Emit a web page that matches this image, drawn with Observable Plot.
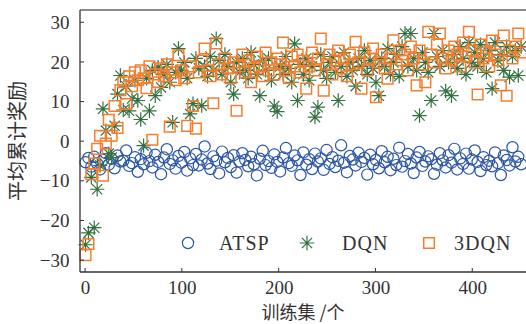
<!DOCTYPE html>
<html><head><meta charset="utf-8">
<script src="https://cdn.jsdelivr.net/npm/d3@7"></script>
<script src="https://cdn.jsdelivr.net/npm/@observablehq/plot@0.6"></script>
<style>body{margin:0;background:#fff} svg{display:block}</style>
</head><body><div id="chart"></div>
<script>
const episodes = [0,3,6,9,12,15,18,21,24,27,30,33,36,39,42,45,48,51,54,57,60,63,66,69,72,75,78,81,84,87,90,93,96,99,102,105,108,111,114,117,120,123,126,129,132,135,138,141,144,147,150,153,156,159,162,165,168,171,174,177,180,183,186,189,192,195,198,201,204,207,210,213,216,219,222,225,228,231,234,237,240,243,246,249,252,255,258,261,264,267,270,273,276,279,282,285,288,291,294,297,300,303,306,309,312,315,318,321,324,327,330,333,336,339,342,345,348,351,354,357,360,363,366,369,372,375,378,381,384,387,390,393,396,399,402,405,408,411,414,417,420,423,426,429,432,435,438,441,444,447,450];

const atsp = [-5.2,-4.1,-6.3,-3.8,-5.5,-7.0,-4.6,-2.9,-5.8,-4.3,
-6.7,-3.5,-5.0,-4.8,-2.2,-6.1,-5.4,-3.9,-7.6,-4.4,
-5.7,-2.8,-4.9,-6.5,-3.3,-5.1,-8.2,-4.0,-1.9,-5.6,
-4.7,-6.8,-3.6,-5.3,-2.6,-7.3,-4.2,-5.9,-3.1,-6.0,
-4.5,-1.2,-5.5,-6.9,-3.7,-4.8,-8.0,-2.5,-5.2,-4.1,
-6.4,-3.4,-7.8,-5.0,-2.9,-4.6,-6.2,-3.8,-5.7,-8.5,
-4.3,-2.3,-5.9,-4.9,-6.6,-3.2,-5.1,-7.5,-4.0,-1.6,
-5.4,-6.1,-3.5,-4.7,-8.4,-2.7,-5.8,-4.4,-6.9,-3.0,
-5.0,-4.2,-7.1,-2.1,-5.6,-3.9,-6.4,-4.8,-0.9,-5.3,
-7.7,-3.6,-4.5,-6.0,-2.8,-5.1,-4.1,-8.3,-3.3,-5.7,
-4.6,-6.7,-2.4,-5.2,-3.8,-7.2,-4.3,-5.9,-1.5,-6.3,
-4.9,-3.1,-5.5,-7.9,-4.0,-2.6,-6.1,-5.0,-3.7,-4.4,
-8.1,-5.8,-2.9,-4.7,-6.5,-3.4,-5.3,-1.8,-7.0,-4.2,
-5.6,-3.0,-6.8,-4.5,-2.2,-5.1,-7.4,-3.9,-5.9,-4.8,
-6.2,-2.7,-5.4,-8.4,-3.5,-4.6,-6.0,-1.4,-5.0,-3.8,
-5.7];

const dqn = [-26,-23,-9,-21.7,-12,-6,8.3,2.8,-3,-4,
4,12,16.7,8,14,7.8,10.9,15.5,10.4,5.6,
-1,16,7.8,18,11.6,18.8,13.7,17,19.5,15,
4.9,17.5,23.5,18,20,16,7,9.6,21,18.5,
9.1,19,16.5,21.5,18,26,20.5,17,22,19,
15,12,20,17.5,21,18,16,22.5,19.5,17,
11.6,20.5,18,21,15.5,9,7.6,19,17,21.5,
18.5,15,24.7,10.4,19.5,17,21,15.5,19,6.2,
8.7,22,18,16,20,21.5,17.5,10.4,19,22.5,
16.5,20,18,14,21,19,23,17,20.5,18.5,
15,11.6,21,19,23.5,17,20,22,16.5,24,
27.3,19,27.3,21,18,6.6,22.5,20,17.5,10.4,
27.3,21.5,19,23,12.8,20,11.6,22,18.5,24,
21,17,25,20,22.5,19,24.5,21,17.5,23,
13.4,25,20.5,22,18,24,16.3,21.5,23,16.7,
24];

const dqn3 = [-28.6,-25.8,-8.2,-5.5,-1.8,1.5,-8.6,-0.5,5.5,1.5,
9,3.5,13,15,9.5,16.5,14,17.5,15.5,18,
16,13.5,19,0.5,17,15,18.5,16.5,19.5,3.8,
17.5,15.5,21.8,18,16,4,19,9,3.3,17.5,
20.5,23.5,18,16.5,9.7,24.8,19.5,17,21,18.5,
16,20,7.8,19,22,17.5,20.5,15,18.5,21.5,
19,16.5,22.5,18,20,17,21,19.5,25,18,
16,21.5,19,22,17.5,20.5,13.4,19,22.5,18,
21,26,12.9,19.5,22,17,20.5,23,18.5,21,
16.5,22,19.5,25.2,20,13.4,22.5,18,21,23.5,
11.2,20,22,18.5,15.9,21,25.6,19.5,23,20.5,
22,18,24,21,14.2,23,19.5,15,27.7,22,
20,24.5,27.3,21,18.5,23,20.5,24,22,19,
25,21.5,27.7,23,20,11.9,24.5,21,22.5,19,
25.5,22,20.5,14.2,26.8,11.6,23,21,24,27.3,
22.5];

const seriesNames = ["ATSP", "DQN", "3DQN"];
const xTicks = [0, 100, 200, 300, 400];
const yTicks = [-30, -20, -10, 0, 10, 20, 30];
const xLabel = "训练集 /个";
const yLabel = "平均累计奖励";

const colors = {ATSP: "#2b55a6", DQN: "#347040", "3DQN": "#f47e2e"};

const asterisk8 = {
  draw(ctx, size) {
    const r = Math.sqrt(size / Math.PI), d = r * Math.SQRT1_2;
    ctx.moveTo(-r, 0); ctx.lineTo(r, 0);
    ctx.moveTo(0, -r); ctx.lineTo(0, r);
    ctx.moveTo(-d, -d); ctx.lineTo(d, d);
    ctx.moveTo(-d, d); ctx.lineTo(d, -d);
  }
};
const symbols = {ATSP: "circle", DQN: asterisk8, "3DQN": "square"};
const legendSymbols = {ATSP: d3.symbolCircle, DQN: asterisk8, "3DQN": d3.symbolSquare};
const radii = {ATSP: 5.6, DQN: 7.2, "3DQN": 6};
const widths = {ATSP: 1.2, DQN: 1.2, "3DQN": 1.5};

const allSeries = [atsp, dqn, dqn3];
const dotMarks = seriesNames.map((name, k) =>
  Plot.dot(episodes.map((e, i) => ({x: e, y: allSeries[k][i]})), {
    x: "x", y: "y", symbol: () => symbols[name], r: radii[name],
    stroke: colors[name], strokeWidth: widths[name], fill: "none"
  })
);

const fmt = d => d < 0 ? "\u2212" + Math.abs(d) : String(d);
const serif = "'Liberation Serif', 'DejaVu Serif', serif";

const chart = Plot.plot({
  width: 526, height: 324,
  marginLeft: 80, marginRight: 0, marginTop: 10, marginBottom: 52,
  x: {domain: [-5.2, 455.5]},
  y: {domain: [-33, 33.1]},
  style: {fontFamily: serif, color: "#333", background: "#fff"},
  marks: [
    ...dotMarks,
    Plot.axisX({ticks: xTicks, tickSize: 0, tickPadding: 8, fontSize: 19, label: null, tickFormat: fmt}),
    Plot.axisY({ticks: yTicks, tickSize: 0, tickPadding: 11, fontSize: 19, label: null, tickFormat: fmt})
  ]
});

const svg = d3.select(chart);
const sx = chart.scale("x"), sy = chart.scale("y");
const [x0, x1] = sx.range, [y0, y1] = sy.range; // y0 bottom, y1 top
const g = svg.append("g");
g.append("line").attr("x1", x0).attr("x2", x1).attr("y1", y1).attr("y2", y1).attr("stroke", "#666").attr("stroke-width", 1.3);
g.append("line").attr("x1", x0).attr("x2", x0).attr("y1", y1).attr("y2", y0).attr("stroke", "#333").attr("stroke-width", 1.3);
g.append("line").attr("x1", x0).attr("x2", x1).attr("y1", y0).attr("y2", y0).attr("stroke", "#333").attr("stroke-width", 1.3);
xTicks.forEach(t => {
  const px = sx.apply(t);
  g.append("line").attr("x1", px).attr("x2", px).attr("y1", y0).attr("y2", y0 - 4).attr("stroke", "#333").attr("stroke-width", 1);
});
yTicks.forEach(t => {
  const py = sy.apply(t);
  g.append("line").attr("x1", x0).attr("x2", x0 + 4).attr("y1", py).attr("y2", py).attr("stroke", "#333").attr("stroke-width", 1);
});
g.append("text").text(xLabel).attr("x", (x0 + x1) / 2).attr("y", 319)
  .attr("text-anchor", "middle").attr("font-family", "'Noto Sans CJK SC', sans-serif").attr("font-size", 18).attr("fill", "#333");
g.append("text").text(yLabel).attr("transform", `translate(25,${(y0 + y1) / 2}) rotate(-90)`)
  .attr("text-anchor", "middle").attr("font-family", "'Noto Sans CJK SC', sans-serif").attr("font-size", 20).attr("fill", "#333");

const legendPos = {ATSP: [188, 219], DQN: [307, 342], "3DQN": [429, 454]};
const legendY = 243;
seriesNames.forEach(name => {
  const [cx, tx] = legendPos[name];
  const r = radii[name];
  g.append("path").attr("d", d3.symbol(legendSymbols[name], r * r * Math.PI)())
    .attr("transform", `translate(${cx},${legendY})`)
    .attr("fill", "none").attr("stroke", colors[name]).attr("stroke-width", widths[name]);
  g.append("text").text(name).attr("x", tx).attr("y", legendY + 6.5)
    .attr("text-anchor", "start")
    .attr("font-family", serif).attr("font-size", 20).attr("letter-spacing", 1).attr("fill", "#333");
});

document.getElementById("chart").appendChild(chart);
</script>
</body></html>
